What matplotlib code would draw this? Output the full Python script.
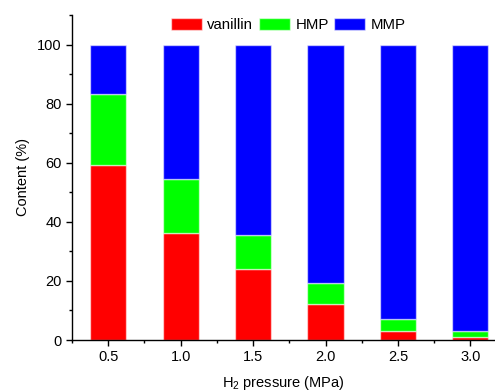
import numpy as np
import matplotlib
matplotlib.use("Agg")
import matplotlib.pyplot as plt
from matplotlib.ticker import MultipleLocator

plt.rcParams["font.family"] = ["Liberation Sans", "DejaVu Sans"]

# H2 pressure (MPa) and product contents (%)
pressure = [0.5, 1.0, 1.5, 2.0, 2.5, 3.0]
vanillin = [59.1, 36.2, 24.0, 12.1, 3.2, 0.9]
hmp = [24.0, 18.4, 11.6, 7.1, 3.8, 2.3]
mmp = [16.9, 45.4, 64.4, 80.8, 93.0, 96.8]

fig = plt.figure(figsize=(4.95, 3.92), dpi=100)
ax = fig.add_axes([72 / 495, 52 / 392, 1 - 72 / 495, 325 / 392])

edge = (1, 1, 1, 0.55)
w = 0.25
ax.bar(pressure, vanillin, width=w, color="#ff0000", edgecolor=edge, linewidth=1, label="vanillin")
ax.bar(pressure, hmp, width=w, bottom=vanillin, color="#00ff00", edgecolor=edge, linewidth=1, label="HMP")
bottom2 = np.array(vanillin) + np.array(hmp)
ax.bar(pressure, mmp, width=w, bottom=bottom2, color="#0000ff", edgecolor=edge, linewidth=1, label="MMP")

ax.set_xlim(0.25, 3.17)
ax.set_ylim(0, 110)
ax.xaxis.set_minor_locator(MultipleLocator(0.25))
ax.yaxis.set_minor_locator(MultipleLocator(10))
ax.set_xticks(pressure)
ax.set_xticklabels([f"{p:.1f}" for p in pressure])
ax.set_yticks([0, 20, 40, 60, 80, 100])

ax.spines["top"].set_visible(False)
ax.spines["right"].set_visible(False)
for s in ("left", "bottom"):
    ax.spines[s].set_linewidth(1.0)
ax.tick_params(which="major", direction="out", length=4.5, width=1, labelsize=10.5, pad=3)
ax.tick_params(which="minor", direction="out", length=2.5, width=1)

ax.set_xlabel(r"H$\mathregular{_2}$ pressure (MPa)", fontsize=10.5, labelpad=7)
ax.set_ylabel("Content (%)", fontsize=10.5, labelpad=5)

fig.legend(*ax.get_legend_handles_labels(), loc="center", bbox_to_anchor=(0.582, 0.936),
           ncol=3, frameon=False, fontsize=10.8, handlelength=2.1, handleheight=0.8,
           handletextpad=0.35, columnspacing=0.35)

fig.savefig("out.png", dpi=100)
